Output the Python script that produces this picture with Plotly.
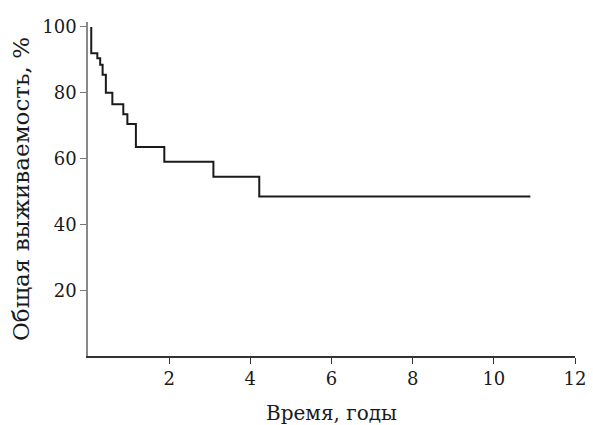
import plotly.graph_objects as go

times = [0.08, 0.08, 0.23, 0.30, 0.36, 0.44, 0.60, 0.87, 0.97, 1.18, 1.88, 3.09, 4.22, 10.9]
surv = [100, 92, 90.5, 88.5, 85.5, 80, 76.5, 73.5, 70.5, 63.5, 59, 54.5, 48.5, 48.5]
x_ticks = [2, 4, 6, 8, 10, 12]
y_ticks = [20, 40, 60, 80, 100]

font_family = "DejaVu Serif"

fig = go.Figure()
fig.add_trace(go.Scatter(x=times, y=surv, mode="lines", line=dict(shape="hv", color="#1a1a1a", width=2), showlegend=False))

fig.update_layout(
    width=593, height=425,
    margin=dict(l=88, r=18, t=22, b=69, autoexpand=False),
    plot_bgcolor="white", paper_bgcolor="white",
    font=dict(family=font_family, size=18, color="#1a1a1a"),
    xaxis=dict(range=[0, 12], tickvals=x_ticks, ticks="outside", ticklen=6, tickcolor="#333333",
               showline=True, linecolor="#333333", linewidth=1.5, showgrid=False, zeroline=False,
               automargin=False,
               title=dict(text="Время, годы", font=dict(size=20), standoff=20),
               tickfont=dict(size=18)),
    yaxis=dict(range=[0, 101.5], tickvals=y_ticks, ticks="outside", ticklen=6, tickcolor="#777777",
               showline=True, linecolor="#888888", linewidth=1.5, showgrid=False, zeroline=False,
               automargin=False,
               title=dict(text="Общая выживаемость, %", font=dict(size=23), standoff=6),
               tickfont=dict(size=18)),
)

fig.write_html("out.html")
